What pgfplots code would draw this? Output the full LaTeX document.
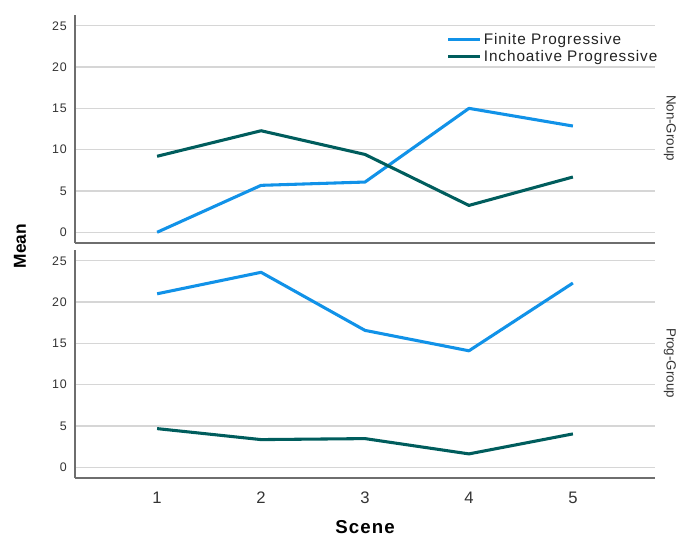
\documentclass[border=0pt]{standalone}
\usepackage{fontspec}
\setmainfont{Liberation Sans}
\newfontfamily\lsfont[LetterSpace=6]{Liberation Sans}
\usepackage{pgfplots}
\pgfplotsset{compat=1.18}
\definecolor{fblue}{RGB}{17,146,232}
\definecolor{iteal}{RGB}{0,93,93}
\definecolor{gridc}{RGB}{214,214,214}
\definecolor{axc}{RGB}{110,110,110}
\definecolor{tickc}{RGB}{51,51,51}
\pgfplotsset{
 panel/.style={
  scale only axis, width=435pt, height=171pt,
  xmin=0.21, xmax=5.79, ymin=-1.3, ymax=26.3,
  axis x line*=bottom, axis y line*=left,
  axis line style={axc, line width=1pt},
  ytick={0,5,10,15,20,25},
  ymajorgrids, grid style={gridc, line width=1.1pt},
  major tick length=0pt,
  yticklabel style={font=\lsfont\fontsize{9.3}{10}\selectfont, text=tickc, anchor=east, inner sep=0pt, xshift=-6pt},
  /pgf/number format/assume math mode=true,
  every axis plot/.append style={line width=2.3pt, line join=round, mark=none},
 }
}
\begin{document}
\begin{tikzpicture}
\path[use as bounding box] (0pt,0pt) rectangle (508.5pt,-402.75pt);
\begin{axis}[panel, at={(56.25pt,-11.25pt)}, anchor=north west, xtick=\empty,
  legend style={at={(1.008,0.93)}, anchor=north east, draw=none, fill=none,
    font=\lsfont\fontsize{11.5}{12}\selectfont, text={rgb,255:red,34;green,34;blue,34},
    inner sep=0pt, row sep=0pt, nodes={inner sep=1.5pt}},
  legend cell align=left,
  legend image code/.code={\draw[#1, line width=2.3pt] (0pt,0pt) -- (24pt,0pt);}]
\addplot[fblue] coordinates {(1,0) (2,5.68) (3,6.08) (4,15.0) (5,12.86)};
\addlegendentry{Finite Progressive}
\addplot[iteal] coordinates {(1,9.2) (2,12.29) (3,9.42) (4,3.25) (5,6.69)};
\addlegendentry{Inchoative Progressive}
\end{axis}
\begin{axis}[panel, at={(56.25pt,-187.5pt)}, anchor=north west,
  xtick={1,2,3,4,5},
  xticklabel style={font=\lsfont\fontsize{12.5}{13}\selectfont, text=tickc, anchor=north, inner sep=0pt, yshift=-10pt}]
\addplot[fblue] coordinates {(1,21.0) (2,23.6) (3,16.57) (4,14.1) (5,22.3)};
\addplot[iteal] coordinates {(1,4.68) (2,3.35) (3,3.47) (4,1.62) (5,4.04)};
\end{axis}
\node[rotate=90, inner sep=0pt, font=\bfseries\fontsize{13}{14}\selectfont] at (15pt,-184.5pt) {Mean};
\node[inner sep=0pt, font=\lsfont\bfseries\fontsize{14}{15}\selectfont] at (273.75pt,-395.5pt) {Scene};
\node[rotate=-90, inner sep=0pt, font=\fontsize{10}{11}\selectfont, text=tickc] at (502.5pt,-96pt) {Non-Group};
\node[rotate=-90, inner sep=0pt, font=\fontsize{10}{11}\selectfont, text=tickc] at (502.5pt,-272.25pt) {Prog-Group};
\end{tikzpicture}
\end{document}
